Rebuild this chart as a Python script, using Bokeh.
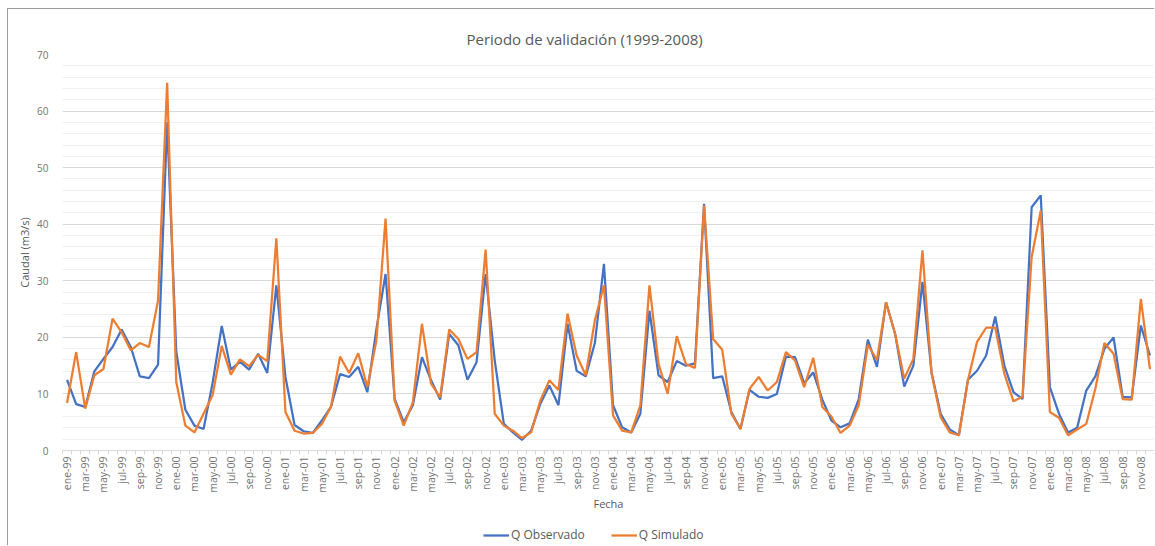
import math
from bokeh.plotting import figure
from bokeh.layouts import column
from bokeh.models import FixedTicker, Legend, LegendItem, Range1d, ColumnDataSource
from bokeh.embed import file_html
from bokeh.resources import INLINE

meses = ["ene", "feb", "mar", "abr", "may", "jun", "jul", "ago", "sep", "oct", "nov", "dic"]
anios = ["99", "00", "01", "02", "03", "04", "05", "06", "07", "08"]
fechas = [f"{m}-{a}" for a in anios for m in meses]

q_observado = [
    12.5, 8.2, 7.7, 14.0, 16.2, 18.3, 21.4, 18.3, 13.1, 12.8, 15.2, 58.0,
    17.5, 7.2, 4.4, 3.8, 12.0, 22.0, 14.3, 15.7, 14.3, 17.1, 13.7, 29.2,
    13.0, 4.5, 3.4, 3.1, 5.3, 7.7, 13.5, 13.0, 14.8, 10.3, 21.5, 31.2,
    9.1, 5.0, 8.0, 16.5, 12.4, 9.0, 20.6, 18.6, 12.5, 15.6, 31.2, 15.9,
    4.7, 3.2, 1.9, 3.5, 8.2, 11.5, 8.0, 22.4, 14.1, 13.1, 19.0, 33.0,
    8.0, 4.1, 3.2, 6.5, 24.7, 13.3, 12.1, 15.8, 15.0, 15.4, 43.6, 12.8,
    13.1, 6.8, 3.8, 10.7, 9.5, 9.3, 10.0, 16.6, 16.5, 11.9, 13.8, 9.0,
    5.3, 4.1, 4.8, 9.1, 19.6, 14.8, 26.2, 20.6, 11.3, 15.0, 29.8, 13.8,
    6.5, 3.7, 2.7, 12.5, 14.1, 16.8, 23.7, 15.0, 10.3, 9.1, 43.0, 45.1,
    11.2, 6.5, 3.2, 4.0, 10.6, 13.1, 18.0, 20.0, 9.5, 9.4, 22.1, 16.8,
]
q_simulado = [
    8.4, 17.4, 7.4, 13.3, 14.4, 23.3, 20.9, 17.7, 19.0, 18.3, 26.5, 65.0,
    12.1, 4.4, 3.2, 6.5, 9.8, 18.5, 13.4, 16.1, 14.9, 16.9, 15.8, 37.5,
    6.8, 3.5, 3.0, 3.1, 4.7, 7.7, 16.6, 13.7, 17.2, 11.2, 19.5, 41.0,
    8.8, 4.4, 8.5, 22.4, 11.8, 9.4, 21.4, 19.7, 16.2, 17.4, 35.5, 6.5,
    4.4, 3.5, 2.2, 3.2, 8.8, 12.4, 10.7, 24.2, 16.8, 13.3, 23.0, 29.2,
    6.2, 3.5, 3.2, 8.0, 29.2, 15.3, 10.0, 20.2, 15.3, 14.6, 43.3, 19.7,
    17.8, 6.5, 3.8, 10.9, 13.0, 10.6, 12.1, 17.4, 15.9, 11.2, 16.4, 7.7,
    6.0, 3.1, 4.4, 8.0, 18.7, 16.0, 26.2, 20.6, 12.7, 16.2, 35.4, 13.6,
    5.9, 3.2, 2.7, 12.4, 19.2, 21.7, 21.7, 13.6, 8.7, 9.5, 34.2, 42.4,
    6.8, 5.8, 2.7, 3.7, 4.7, 10.9, 19.0, 17.1, 9.1, 9.0, 26.8, 14.4,
]

FONT = "Open Sans"
GRAY = "#595959"
TICK_GRAY = "#737373"
BLUE = "#4472C4"
ORANGE = "#ED7D31"

idx = list(range(len(fechas)))
src = ColumnDataSource(dict(x=idx, obs=q_observado, sim=q_simulado))

p = figure(width=1147, height=513, output_backend="svg", toolbar_location=None,
           x_range=Range1d(-0.5, len(fechas) - 0.5), y_range=Range1d(0, 70),
           min_border_left=54, min_border_right=1, min_border_top=45, min_border_bottom=72)
p.margin = (8, 0, 0, 7)

p.title.text = "Periodo de validación (1999-2008)"
p.title.align = "left"
p.title.offset = 404
p.title.text_font = FONT
p.title.text_font_size = "15px"
p.title.text_font_style = "normal"
p.title.text_color = GRAY
p.title.standoff = 12

p.outline_line_color = None
p.styles = {"border-left": "1px solid #9a9a9a", "border-top": "1px solid #9a9a9a"}

# x axis
p.xaxis.ticker = FixedTicker(ticks=idx[::2], minor_ticks=[i - 0.5 for i in idx] + [len(idx) - 0.5])
p.xaxis.major_label_overrides = {i: fechas[i] for i in idx}
p.xaxis.major_label_orientation = math.pi / 2
p.xaxis.major_label_text_font = FONT
p.xaxis.major_label_text_font_size = "10.5px"
p.xaxis.major_label_text_color = TICK_GRAY
p.xaxis.major_label_standoff = 2
p.xaxis.axis_line_color = "#d9d9d9"
p.xaxis.major_tick_line_color = None
p.xaxis.major_tick_out = 4
p.xaxis.minor_tick_line_color = "#d9d9d9"
p.xaxis.minor_tick_out = 4
p.xaxis.minor_tick_in = 0
p.xaxis.axis_label = "Fecha"
p.xaxis.axis_label_text_font = FONT
p.xaxis.axis_label_text_font_size = "11px"
p.xaxis.axis_label_text_font_style = "normal"
p.xaxis.axis_label_text_color = GRAY
p.xaxis.axis_label_standoff = 0

# y axis
p.yaxis.ticker = FixedTicker(ticks=list(range(0, 71, 10)), minor_ticks=list(range(0, 71, 2)))
p.yaxis.axis_line_color = None
p.yaxis.major_tick_line_color = None
p.yaxis.minor_tick_line_color = None
p.yaxis.major_label_text_font = FONT
p.yaxis.major_label_text_font_size = "10px"
p.yaxis.major_label_text_color = TICK_GRAY
p.yaxis.major_label_standoff = 8
p.yaxis.axis_label = "Caudal (m3/s)"
p.yaxis.axis_label_text_font = FONT
p.yaxis.axis_label_text_font_size = "11px"
p.yaxis.axis_label_text_font_style = "normal"
p.yaxis.axis_label_text_color = GRAY
p.yaxis.axis_label_standoff = 2

p.xgrid.grid_line_color = None
p.ygrid.grid_line_color = "#d9d9d9"
p.ygrid.minor_grid_line_color = "#f0f0f0"

p.line("x", "obs", source=src, line_color=BLUE, line_width=2.25)
p.line("x", "sim", source=src, line_color=ORANGE, line_width=2.25)

# legend strip below the chart (its sample lines lie outside its visible range)
p2 = figure(width=1147, height=24, output_backend="svg", toolbar_location=None,
            x_range=Range1d(0, 1), y_range=Range1d(0, 1),
            x_axis_location=None, y_axis_location=None, min_border=0)
p2.margin = (0, 0, 0, 7)
p2.styles = {"border-left": "1px solid #9a9a9a"}
p2.outline_line_color = None
p2.xgrid.grid_line_color = None
p2.ygrid.grid_line_color = None
l_obs = p2.line(x=[-5, -4], y=[-5, -5], line_color=BLUE, line_width=2.25)
l_sim = p2.line(x=[-5, -4], y=[-5, -5], line_color=ORANGE, line_width=2.25)

legend = Legend(items=[LegendItem(label="Q Observado", renderers=[l_obs]),
                       LegendItem(label="Q Simulado", renderers=[l_sim])],
                orientation="horizontal", location=(421, 2))
legend.label_text_font = FONT
legend.label_text_font_size = "12px"
legend.label_text_color = GRAY
legend.border_line_color = None
legend.background_fill_alpha = 0
legend.glyph_width = 26
legend.glyph_height = 14
legend.label_height = 14
legend.spacing = 26
legend.padding = 2
legend.margin = 0
legend.label_standoff = 2
p2.add_layout(legend)

layout = column(p, p2, spacing=0)
open("out.html", "w").write(file_html(layout, INLINE))
